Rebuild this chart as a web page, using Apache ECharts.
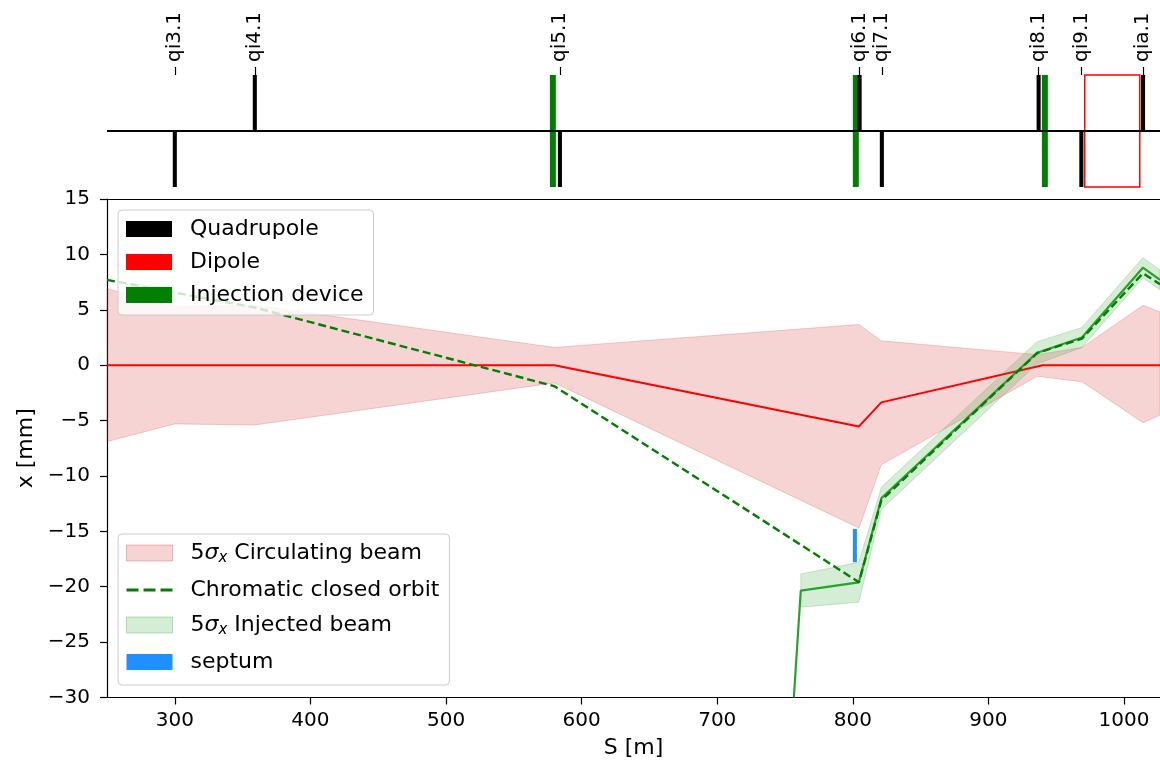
<!DOCTYPE html>
<html>
<head>
<meta charset="utf-8">
<script src="https://cdn.jsdelivr.net/npm/echarts@6/dist/echarts.min.js"></script>
<style>
  html, body { margin: 0; padding: 0; background: #fff; }
  #chart { width: 1160px; height: 768px; }
</style>
</head>
<body>
<div id="chart"></div>
<script>
// lattice elements (s in m)
const quadNames = ['qi3.1', 'qi4.1', 'qi5.1', 'qi6.1', 'qi7.1', 'qi8.1', 'qi9.1', 'qia.1'];
const quadS = [300, 359, 584, 805, 821.4, 937, 968.5, 1014];
const quadSign = [-1, 1, -1, 1, -1, 1, -1, 1];
const injDevS = [578.8, 802.2, 941.6];
const dipoleStart = [971];
const dipoleEnd = [1011.6];

// circulating beam: closed orbit and 5 sigma envelope (mm)
const orbitS = [250, 580, 804.5, 821, 940, 1026.5];
const orbitX = [0, 0, -5.53, -3.36, 0, 0];
const circS = [250, 300, 359, 580, 804.5, 821, 936, 969, 1014, 1026.5];
const circLow = [-6.9, -5.3, -5.4, -1.6, -14.7, -9.0, -1.0, -1.5, -5.2, -4.5];
const circHigh = [6.9, 5.3, 5.4, 1.6, 3.67, 2.2, 0.95, 1.6, 5.4, 4.8];

// chromatic closed orbit
const chromS = [250, 359, 580, 804.5, 821, 936, 969, 1014, 1026.5];
const chromX = [7.7, 5.2, -1.9, -19.6, -12.2, 1.1, 2.4, 8.3, 7.3];

// injected beam
const injS = [756.5, 761.6, 804.4, 821.1, 935.6, 968.9, 1013.9, 1026.5];
const injX = [-30, -20.35, -19.6, -12.0, 1.1, 2.5, 8.8, 7.7];
const injBandS = [761.6, 804.4, 821.1, 935.6, 968.9, 1013.9, 1026.5];
const injBandLow = [-21.85, -21.4, -13.0, 0.1, 1.6, 7.9, 6.8];
const injBandHigh = [-18.85, -17.8, -11.0, 2.1, 3.4, 9.7, 8.6];

// septum blade
const septumS = [801.5, 801.5];
const septumX = [-14.8, -17.8];

const xTicks = [300, 400, 500, 600, 700, 800, 900, 1000];
const X_MIN = 250, X_MAX = 1026.5;

const FONT = 'DejaVu Sans';
const dashIcon = 'path://M0,0M46,16M0,6.5h12v3h-12zM17,6.5h12v3h-12zM34,6.5h12v3h-12z';

function bandRender(sArr, lo, hi, fill, stroke) {
  return function (params, api) {
    if (params.dataIndex !== 0) return null;
    const pts = [];
    for (let i = 0; i < sArr.length; i++) pts.push(api.coord([sArr[i], hi[i]]));
    for (let i = sArr.length - 1; i >= 0; i--) pts.push(api.coord([sArr[i], lo[i]]));
    return { type: 'polygon', shape: { points: pts }, style: { fill: fill, stroke: stroke, lineWidth: 1 } };
  };
}

function rectBetween(api, s0, y0, s1, y1) {
  const a = api.coord([s0, y0]);
  const b = api.coord([s1, y1]);
  return {
    x: Math.min(a[0], b[0]), y: Math.min(a[1], b[1]),
    width: Math.abs(b[0] - a[0]), height: Math.abs(b[1] - a[1])
  };
}

const minus = v => String(v).replace('-', '\u2212');

const richText = {
  sg: { fontFamily: FONT, fontSize: 22, fontStyle: 'italic', color: '#000' },
  sub: { fontFamily: FONT, fontSize: 15, fontStyle: 'italic', color: '#000', padding: [11, 0, 0, 0] }
};

const legendBox = {
  orient: 'vertical',
  left: 118,
  z: 10,
  itemWidth: 46,
  itemHeight: 16,
  selectedMode: false,
  backgroundColor: 'rgba(255,255,255,0.8)',
  borderColor: '#cccccc',
  borderWidth: 1,
  borderRadius: 4,
  textStyle: { fontFamily: FONT, fontSize: 22, color: '#000', padding: [0, 0, 0, 13], rich: richText },
  formatter: name => name.startsWith('5σx') ? '5{sg|σ}{sub|x}' + name.slice(3) : name
};

const chart = echarts.init(document.getElementById('chart'));
chart.setOption({
  animation: false,
  textStyle: { fontFamily: FONT },
  grid: [
    { left: 107, right: 0, top: 75, height: 112 },
    { left: 107, right: 0, top: 199, height: 498.5 }
  ],
  legend: [
    Object.assign({}, legendBox, {
      top: 210, itemGap: 11, padding: [8, 10, 9, 8],
      data: [
        { name: 'Quadrupole', icon: 'rect' },
        { name: 'Dipole', icon: 'rect' },
        { name: 'Injection device', icon: 'rect' }
      ]
    }),
    Object.assign({}, legendBox, {
      top: 534, itemGap: 13, padding: [8, 10, 12, 8],
      data: [
        { name: '5σx Circulating beam', icon: 'rect', itemStyle: { color: 'rgba(214,39,40,0.2)', borderColor: 'rgba(214,39,40,0.3)', borderWidth: 1 } },
        { name: 'Chromatic closed orbit', icon: dashIcon },
        { name: '5σx Injected beam', icon: 'rect', itemStyle: { color: 'rgba(44,160,44,0.2)', borderColor: 'rgba(44,160,44,0.3)', borderWidth: 1 } },
        { name: 'septum', icon: 'rect' }
      ]
    })
  ],
  xAxis: [
    {
      gridIndex: 0, type: 'value', min: X_MIN, max: X_MAX, position: 'top',
      axisLine: { show: false, onZero: false },
      splitLine: { show: false },
      axisTick: { show: true, length: 8, customValues: quadS, lineStyle: { color: '#000', width: 1.2 } },
      axisLabel: {
        rotate: -90, margin: 13, customValues: quadS, color: '#000', fontSize: 20, fontFamily: FONT,
        formatter: v => quadNames[quadS.indexOf(v)]
      }
    },
    {
      gridIndex: 1, type: 'value', min: X_MIN, max: X_MAX, position: 'bottom',
      name: 'S [m]', nameLocation: 'middle', nameGap: 40,
      nameTextStyle: { fontSize: 22, color: '#000', fontFamily: FONT },
      axisLine: { onZero: false, lineStyle: { color: '#000', width: 1.2 } },
      splitLine: { show: false },
      axisTick: { length: 7, customValues: xTicks, lineStyle: { color: '#000', width: 1.2 } },
      axisLabel: { customValues: xTicks, margin: 13, color: '#000', fontSize: 20, fontFamily: FONT, formatter: v => String(v) }
    },
    {
      gridIndex: 1, type: 'value', min: X_MIN, max: X_MAX, position: 'top',
      axisLine: { show: true, onZero: false, lineStyle: { color: '#000', width: 1.2 } },
      axisTick: { show: false }, axisLabel: { show: false }, splitLine: { show: false }
    }
  ],
  yAxis: [
    { gridIndex: 0, type: 'value', min: -1, max: 1, show: false },
    {
      gridIndex: 1, type: 'value', min: -30, max: 15, interval: 5,
      name: 'x [mm]', nameLocation: 'middle', nameGap: 70, nameRotate: 90,
      nameTextStyle: { fontSize: 22, color: '#000', fontFamily: FONT },
      axisLine: { show: true, onZero: false, lineStyle: { color: '#000', width: 1.2 } },
      splitLine: { show: false },
      axisTick: { show: true, length: 7, lineStyle: { color: '#000', width: 1.2 } },
      axisLabel: { margin: 17, color: '#000', fontSize: 20, fontFamily: FONT, formatter: minus }
    }
  ],
  series: [
    {
      name: 'Quadrupole', type: 'custom', xAxisIndex: 0, yAxisIndex: 0, z: 3,
      itemStyle: { color: '#000' },
      data: quadS.map((s, i) => [s, quadSign[i]]),
      encode: { x: 0, y: 1 },
      renderItem: (params, api) => ({
        type: 'rect',
        shape: rectBetween(api, api.value(0) - 1.5, 0, api.value(0) + 1.5, api.value(1)),
        style: { fill: '#000' }
      }),
      // beam line
      markLine: {
        silent: true, symbol: 'none', label: { show: false },
        lineStyle: { color: '#000', width: 2, type: 'solid' },
        data: [{ yAxis: 0 }]
      }
    },
    {
      name: 'Injection device', type: 'custom', xAxisIndex: 0, yAxisIndex: 0, z: 2,
      itemStyle: { color: 'green' },
      data: injDevS.map(s => [s, 1]),
      encode: { x: 0, y: 1 },
      renderItem: (params, api) => ({
        type: 'rect',
        shape: rectBetween(api, api.value(0) - 2.2, -1, api.value(0) + 2.2, 1),
        style: { fill: 'green' }
      })
    },
    {
      name: 'Dipole', type: 'custom', xAxisIndex: 0, yAxisIndex: 0, z: 2,
      itemStyle: { color: 'red' },
      data: dipoleStart.map((s, i) => [s, dipoleEnd[i]]),
      encode: { x: [0, 1] },
      renderItem: (params, api) => ({
        type: 'rect',
        shape: rectBetween(api, api.value(0), -1, api.value(1), 1),
        style: { fill: 'none', stroke: 'red', lineWidth: 1.5 }
      })
    },
    {
      name: '5σx Circulating beam', type: 'custom', xAxisIndex: 1, yAxisIndex: 1, z: 1,
      itemStyle: { color: 'rgba(214,39,40,0.2)' },
      data: circS.map((s, i) => [s, circLow[i], circHigh[i]]),
      encode: { x: 0, y: [1, 2] },
      renderItem: bandRender(circS, circLow, circHigh, 'rgba(214,39,40,0.2)', 'rgba(214,39,40,0.22)')
    },
    {
      name: 'Closed orbit', type: 'line', xAxisIndex: 1, yAxisIndex: 1, z: 2,
      symbol: 'none', color: 'red',
      lineStyle: { color: 'red', width: 2 },
      data: orbitS.map((s, i) => [s, orbitX[i]])
    },
    {
      name: '5σx Injected beam', type: 'custom', xAxisIndex: 1, yAxisIndex: 1, z: 3,
      itemStyle: { color: 'rgba(44,160,44,0.2)' },
      data: injBandS.map((s, i) => [s, injBandLow[i], injBandHigh[i]]),
      encode: { x: 0, y: [1, 2] },
      renderItem: bandRender(injBandS, injBandLow, injBandHigh, 'rgba(44,160,44,0.2)', 'rgba(44,160,44,0.22)')
    },
    {
      name: 'Injected beam', type: 'line', xAxisIndex: 1, yAxisIndex: 1, z: 4,
      symbol: 'none', color: '#2ca02c',
      lineStyle: { color: '#2ca02c', width: 2.2 },
      data: injS.map((s, i) => [s, injX[i]])
    },
    {
      name: 'Chromatic closed orbit', type: 'line', xAxisIndex: 1, yAxisIndex: 1, z: 5,
      symbol: 'none', color: 'green',
      lineStyle: { color: 'green', width: 2.4, type: [8, 4] },
      data: chromS.map((s, i) => [s, chromX[i]])
    },
    {
      name: 'septum', type: 'line', xAxisIndex: 1, yAxisIndex: 1, z: 5,
      symbol: 'none', color: '#1e90ff',
      lineStyle: { color: '#1e90ff', width: 4 },
      data: septumS.map((s, i) => [s, septumX[i]])
    }
  ]
});
</script>
</body>
</html>
